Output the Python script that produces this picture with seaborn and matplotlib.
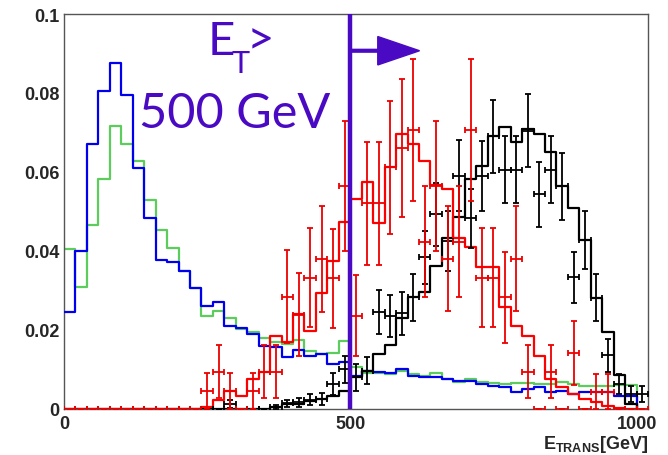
import numpy as np
import matplotlib
matplotlib.use("Agg")
import matplotlib.pyplot as plt
import seaborn as sns

# ---------------- data ----------------
bin_edges = list(range(0, 1001, 20))          # histogram bins, 20 GeV
point_centers = list(range(10, 1020, 20))     # error-point bin centres (51 bins)

blue_hist = [0.0245, 0.0399, 0.0671, 0.0806, 0.0875, 0.0795, 0.0609, 0.0484, 0.0376, 0.0371,
             0.0350, 0.0307, 0.0262, 0.0270, 0.0211, 0.0205, 0.0190, 0.0160, 0.0156, 0.0131,
             0.0150, 0.0135, 0.0139, 0.0114, 0.0118, 0.0084, 0.0097, 0.0093, 0.0091, 0.0101,
             0.0084, 0.0080, 0.0080, 0.0076, 0.0072, 0.0072, 0.0063, 0.0059, 0.0055, 0.0042,
             0.0051, 0.0055, 0.0042, 0.0046, 0.0038, 0.0042, 0.0044, 0.0042, 0.0034, 0.0034]

green_hist = [0.0405, 0.0308, 0.0467, 0.0582, 0.0717, 0.0671, 0.0627, 0.0530, 0.0454, 0.0407,
              0.0350, 0.0306, 0.0236, 0.0249, 0.0230, 0.0203, 0.0194, 0.0179, 0.0170, 0.0165,
              0.0174, 0.0148, 0.0138, 0.0141, 0.0173, 0.0106, 0.0092, 0.0090, 0.0089, 0.0095,
              0.0089, 0.0084, 0.0090, 0.0076, 0.0068, 0.0076, 0.0068, 0.0066, 0.0063, 0.0066,
              0.0066, 0.0063, 0.0063, 0.0068, 0.0063, 0.0059, 0.0059, 0.0057, 0.0061, 0.0061]

red_hist = [0, 0, 0, 0, 0, 0, 0, 0, 0, 0,
            0, 0, 0.0005, 0.0022, 0.0046, 0.0034, 0.0077, 0.0093, 0.0186, 0.0170,
            0.0241, 0.0198, 0.0294, 0.0375, 0.0473, 0.0532, 0.0574, 0.0471, 0.0613, 0.0695,
            0.0671, 0.0629, 0.0568, 0.0557, 0.0433, 0.0411, 0.0360, 0.0360, 0.0257, 0.0209,
            0.0185, 0.0134, 0.0076, 0.0055, 0.0038, 0.0025, 0.0018, 0.0008, 0.0003, 0]

black_hist = [0, 0, 0, 0, 0, 0, 0, 0, 0, 0,
              0, 0, 0, 0, 0, 0, 0, 0, 0.0005, 0.0012,
              0.0012, 0.0020, 0.0025, 0.0034, 0.0046, 0.0080, 0.0097, 0.0139, 0.0162, 0.0230,
              0.0283, 0.0297, 0.0363, 0.0432, 0.0487, 0.0582, 0.0614, 0.0690, 0.0713, 0.0675,
              0.0709, 0.0695, 0.0650, 0.0564, 0.0510, 0.0428, 0.0281, 0.0195, 0.0087, 0.0013]

red_pts = [0, 0, 0, 0, 0, 0, 0, 0, 0, 0, 0, 0,
           0.0046, 0.0094, 0.0046, 0, 0.0046, 0.0094, 0.0094, 0.0284, 0.0239, 0.0332,
           0.0380, 0.0331, 0.0565, 0.0236, 0.0521, 0.0521, 0.0612, 0.0661, 0.0707, 0.0424,
           0.0565, 0.0380, 0.0424, 0.0707, 0.0332, 0.0332, 0.0283, 0.0380, 0.0094, 0,
           0.0094, 0, 0.0142, 0, 0.0044, 0.0044, 0, 0, 0]
red_err = [0, 0, 0, 0, 0, 0, 0, 0, 0, 0, 0, 0,
           0.0045, 0.0067, 0.0045, 0, 0.0045, 0.0067, 0.0067, 0.0118, 0.0105, 0.0125,
           0.0134, 0.0125, 0.0165, 0.0103, 0.0156, 0.0156, 0.0169, 0.0175, 0.0180, 0.0140,
           0.0165, 0.0133, 0.0140, 0.0180, 0.0125, 0.0125, 0.0115, 0.0133, 0.0067, 0,
           0.0067, 0, 0.0080, 0, 0.0045, 0.0045, 0, 0, 0]

black_pts = [0, 0, 0, 0, 0, 0, 0, 0, 0, 0, 0, 0, 0, 0,
             0.0013, 0, 0, 0, 0.0005, 0.0014, 0.0017, 0.0023, 0.0025, 0.0063, 0.0101,
             0.0080, 0.0097, 0.0245, 0.0236, 0.0242, 0.0283, 0.0384, 0.0493, 0.0425, 0.0590,
             0.0483, 0.0590, 0.0690, 0.0606, 0.0606, 0.0705, 0.0544, 0.0606, 0.0564, 0.0333,
             0.0428, 0.0282, 0.0136, 0.0063, 0.0038, 0.0038]
black_err = [0, 0, 0, 0, 0, 0, 0, 0, 0, 0, 0, 0, 0, 0,
             0.0010, 0, 0, 0, 0.0006, 0.0010, 0.0012, 0.0014, 0.0016, 0.0028, 0.0034,
             0.0035, 0.0034, 0.0055, 0.0053, 0.0055, 0.0060, 0.0067, 0.0080, 0.0075, 0.0090,
             0.0075, 0.0088, 0.0093, 0.0085, 0.0085, 0.0092, 0.0082, 0.0085, 0.0085, 0.0064,
             0.0074, 0.0060, 0.0042, 0.0026, 0.0021, 0.0021]

y_ticks = [0, 0.02, 0.04, 0.06, 0.08, 0.1]
y_ticklabels = ["0", "0.02", "0.04", "0.06", "0.08", "0.1"]
x_ticks = [0, 500, 1000]
x_ticklabels = ["0", "500", "1000"]
cut_value = 500

# ---------------- style ----------------
sns.set_style("white")
plt.rcParams["font.family"] = ["Liberation Sans", "DejaVu Sans"]
plt.rcParams["mathtext.fontset"] = "custom"
plt.rcParams["mathtext.rm"] = "Liberation Sans"
plt.rcParams["mathtext.bf"] = "Liberation Sans:bold"

PURPLE = "#4a0ac4"
GREEN = "#5ccc5c"

fig = plt.figure(figsize=(6.68, 4.56), dpi=100)
ax = fig.add_axes([0.0958, 0.1009, 0.8743, 0.8662])


def step_line(values, color, z):
    xs = bin_edges
    ys = list(values) + [0.0]
    sns.lineplot(x=xs, y=ys, ax=ax, color=color, linewidth=1.6,
                 drawstyle="steps-post", sort=False, estimator=None, zorder=z)


step_line(green_hist, GREEN, 2)
step_line(blue_hist, "#0000ee", 3)
step_line(black_hist, "black", 4)
step_line(red_hist, "#ff0000", 5)

ax.errorbar(point_centers, black_pts, xerr=10, yerr=black_err, fmt="none",
            ecolor="black", elinewidth=1.3, capsize=2.4, capthick=1.3, zorder=6)
ax.errorbar(point_centers, red_pts, xerr=10, yerr=red_err, fmt="none",
            ecolor="#ee0000", elinewidth=1.3, capsize=2.4, capthick=1.3, zorder=7)

# cut line and arrow
ax.axvline(cut_value, color=PURPLE, linewidth=3.2, zorder=8)
ax.arrow(cut_value, 0.0907, 121, 0, width=0.0007, head_width=0.0072,
         head_length=73, length_includes_head=True, color=PURPLE, zorder=8)

# annotation text
tfont = "Lato"
ax.text(250, 0.0899, "E", color=PURPLE, fontsize=34, family=tfont,
        ha="left", va="baseline", zorder=9)
ax.text(293, 0.0853, "T", color=PURPLE, fontsize=22, family=tfont,
        ha="left", va="baseline", zorder=9)
ax.text(319, 0.0899, ">", color=PURPLE, fontsize=34, family=tfont,
        ha="left", va="baseline", zorder=9)
ax.text(131, 0.0714, "500 GeV", color=PURPLE, fontsize=35, family=tfont,
        ha="left", va="baseline", zorder=9)

# axes
ax.set_xlim(0, 1020)
ax.set_ylim(0, 0.1)
ax.set_xticks(x_ticks)
ax.set_xticklabels(x_ticklabels, fontsize=13, fontweight="bold")
ax.set_yticks(y_ticks)
ax.set_yticklabels(y_ticklabels, fontsize=13, fontweight="bold")
ax.tick_params(axis="y", direction="in", length=13, width=1, pad=3, color="black")
ax.tick_params(axis="x", direction="in", length=8, width=1, pad=4, color="black")
ax.set_ylabel("")
ax.set_xlabel(r"$\mathbf{E}_{\mathbf{TRANS}}$[GeV]", fontsize=13, fontweight="bold",
              loc="right", labelpad=1)
for s in ax.spines.values():
    s.set_color("#555555")
    s.set_linewidth(1.0)

fig.savefig("out.png", dpi=100, facecolor="white")
